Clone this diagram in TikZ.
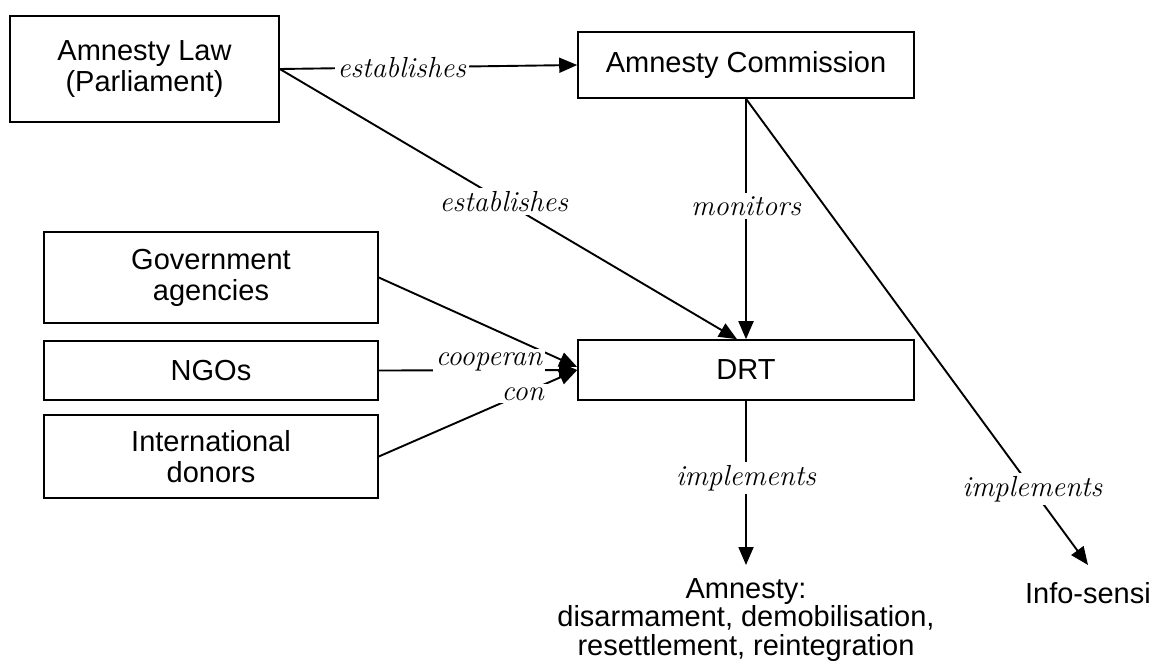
\documentclass[tikz,border=0pt]{standalone}
\usepackage{fontspec}
\newfontfamily\boxfont{Liberation Sans}
\usetikzlibrary{arrows.meta,calc}
\begin{document}
\begin{tikzpicture}[x=1pt,y=-1pt,
  box/.style={draw, line width=1.6pt, inner sep=0pt, align=center,
    font=\boxfont\fontsize{29}{31}\selectfont},
  plain/.style={inner sep=0pt, align=center, font=\boxfont\fontsize{29}{28.5}\selectfont},
  lbl/.style={fill=white, inner sep=3pt, font=\fontsize{29}{32}\selectfont\itshape},
  arr/.style={line width=1.9pt, -{Triangle[length=18pt,width=15pt]}}]
\fill[white] (0,0) rectangle (1153,667);
\useasboundingbox (0,0) rectangle (1153,667);

\node[box, minimum width=269pt, minimum height=106pt] (law) at (144.5,69) {Amnesty Law\\(Parliament)};
\node[box, minimum width=336pt, minimum height=66pt] (comm) at (746,65) {Amnesty Commission};
\node[box, minimum width=334pt, minimum height=91pt] (gov) at (211,277.5) {Government\\agencies};
\node[box, minimum width=334pt, minimum height=59pt] (ngo) at (211,370.5) {NGOs};
\node[box, minimum width=334pt, minimum height=83pt] (don) at (211,456.5) {International\\donors};
\node[box, minimum width=336pt, minimum height=60pt] (drt) at (746,370) {DRT};
\node[plain] (amn) at (746,620) {Amnesty:\\disarmament, demobilisation,\\resettlement, reintegration};
\node[plain, anchor=east] (info) at (1151,593) {Info-sensi};

\coordinate (drtn) at ($(drt.north)+(-9,0)$);
\coordinate (amntip) at (746,565);
\coordinate (infotip) at (1088,565);

\draw[arr] (law.east) -- node[lbl, pos=0.41] {establishes} (comm.west);
\draw[arr] (law.east) -- node[lbl, pos=0.49] {establishes} (drtn);
\draw[arr] (comm.south) -- node[lbl, pos=0.446] {monitors} (drt.north);
\draw[arr] (comm.south) -- node[lbl, pos=0.837] {implements} (infotip);
\draw[arr] (drt.south) -- node[lbl, pos=0.47] {implements} (amntip);
\draw[arr] (gov.east) -- ($(drt.west)+(0,-3)$);
\draw[arr] (ngo.east) -- node[lbl, pos=0.555, anchor=base, yshift=5pt] {cooperan} (drt.west);
\draw[arr] (don.east) -- node[lbl, pos=0.725] {con} (drt.west);
\end{tikzpicture}
\end{document}
